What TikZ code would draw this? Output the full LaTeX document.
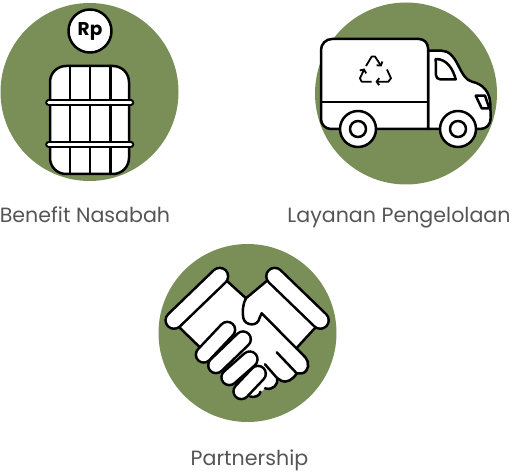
\documentclass[tikz,border=0pt]{standalone}
\usepackage{fontspec}
\setmainfont{Poppins}
\usepackage{xcolor}
\usepackage{tikz}
\usetikzlibrary{arrows.meta}
\definecolor{leafgreen}{HTML}{7A8F58}
\definecolor{labelgray}{HTML}{555555}

\begin{document}
\begin{tikzpicture}[
	x=1pt, y=-1pt,
	font=\fontsize{20.6}{24}\selectfont,
	badge/.style={fill=leafgreen, draw=none},
	outline/.style={draw=black, fill=white, line width=2.5pt, line join=round},
	inkline/.style={draw=black, line width=2.5pt, line cap=round, line join=round},
	rail/.style={draw=black, line width=2pt, double=white, double distance=2.6pt, line cap=round},
	cuff/.style={draw=black, line width=2.6pt, double=white, double distance=14.2pt, line cap=round},
	finger/.style={draw=black, line width=2.6pt, double=white, double distance=13pt, line cap=round},
	caption/.style={text=labelgray, anchor=base, inner sep=0pt},
	cycle_arrow/.style={draw=black, line width=1.8pt, line join=round, -{Straight Barb[length=2.6pt,width=7pt]}}
	]
	\useasboundingbox (0,0) rectangle (512,473);
	
	% --- NỀN TRÒN ---
	\fill[badge] (89.5,92) circle (89);
	\fill[badge] (406,93.5) circle (91);
	\fill[badge] (247.5,333) circle (89);
	
	% --- THÙNG VÀ KOIN ---
	\draw[outline] (90,31) circle (21.5);
	\node[font=\fontsize{18.5}{20}\bfseries\selectfont, inner sep=0pt] (rp) at (90,31) {Rp};
	\draw[outline] (50,82) arc (180:270:16) -- (113,66) arc (270:360:16) -- (129,158)
		arc (0:90:16) -- (66,174) arc (90:180:16) -- cycle;
	\draw[inkline] (70,66) -- (70,174);
	\draw[inkline] (90,66) -- (90,174);
	\draw[inkline] (110.5,66) -- (110.5,174);
	\draw[rail] (48.5,102.7) -- (131,102.7);
	\draw[rail] (48.5,144.3) -- (131,144.3);
	
	% --- XE TẢI ---
	\draw[outline] (428,50.7) -- (441.7,50.7) .. controls (449,50.7) and (454,57) .. (458,65)
		.. controls (463,75) and (466,80) .. (472,81.7) .. controls (483,84) and (490,92) .. (490.3,104)
		-- (490.7,118) .. controls (490.7,125) and (486,129) .. (480,129) -- (428,129) -- cycle;
	\draw[outline] (321,50) arc (180:270:11) -- (419,39) arc (270:360:9) -- (428,129)
		-- (331,129) arc (90:180:10) -- cycle;
	\draw[inkline] (321,102) -- (428,102);
	\draw[outline] (435.7,59) .. controls (447,59) and (453,69) .. (455.7,79.3)
		-- (440,79.3) arc (90:180:4) -- cycle;
	\draw[outline] (475.7,95.7) -- (485,95.7) -- (489.3,108.3) -- (481.7,108.3) -- cycle;
	\draw[outline] (358,129) circle (18);
	\draw[outline] (358,129) circle (8);
	\draw[outline] (458,129) circle (18);
	\draw[outline] (458,129) circle (8);
	
	% --- KÝ HIỆU TÁI CHẾ ---
	\draw[cycle_arrow] (366,66) -- (371.7,56.5) -- (375,56.5) -- (381.5,66.5);
	\draw[cycle_arrow] (387,69.5) -- (391,78.3) -- (388.3,81.7) -- (375.5,81.7);
	\draw[cycle_arrow] (371.7,81.7) -- (361.7,81.7) -- (360,78.3) -- (364.5,68.5);
	
	% --- BẮT TAY ---
	% Phần nền trắng của hai bàn tay
	\fill[white] (227,281) -- (246,298.3) -- (266.7,281) -- (315,328) -- (296.5,348.1) -- (305.5,357.5)
		-- (307,368) -- (302,373.3) -- (296.7,373.3) -- (289,380.5) -- (281.7,381) -- (277,378)
		-- (275,386) -- (265,388.3) -- (258,395) -- (250,396.5) -- (200,347) -- (180,328) -- cycle;
	\draw[inkline] (227,281) -- (246,298.3);
	\draw[inkline] (180,328) -- (199.3,346.7);
	\draw[inkline] (315,328) -- (296.5,348.1);
	% Ngón cái và mép trên bàn tay phải
	\draw[inkline] (266.7,281) -- (246,298.3) .. controls (243,303) and (242,312) .. (243.3,318)
		.. controls (245,326) and (258,327) .. (259.5,318) -- (261.7,313.3) -- (305.5,357.5)
		.. controls (310,362) and (309,372) .. (302,373.3) -- (296.7,373.3);
	\draw[inkline] (276.7,352.3) -- (296.7,373.3) .. controls (293,380) and (286,383) .. (281.7,381)
		-- (277,378);
	\draw[inkline] (265,364.3) -- (277,378) .. controls (279,384) and (273,391) .. (265,388.3);
	\draw[inkline] (260.5,391.7) .. controls (260,396) and (254,398) .. (250,396.5);
	\draw[cuff] (219.7,276.3) -- (174,320.3);
	\draw[cuff] (274.7,276.3) -- (320.3,320.3);
	\draw[finger] (227.3,329.7) -- (203.7,354.7);
	\draw[finger] (243,339.3) -- (216,365.3);
	\draw[finger] (249.7,359.3) -- (229.3,377.3);
	\draw[finger] (258,373.7) -- (241.3,391.3);
	
	% --- NHÃN ---
	\node[caption] (benefit) at (85,223) {Benefit Nasabah};
	\node[caption] (layanan) at (399,223) {Layanan Pengelolaan};
	\node[caption] (partnership) at (249.5,465.5) {Partnership};
\end{tikzpicture}
\end{document}
